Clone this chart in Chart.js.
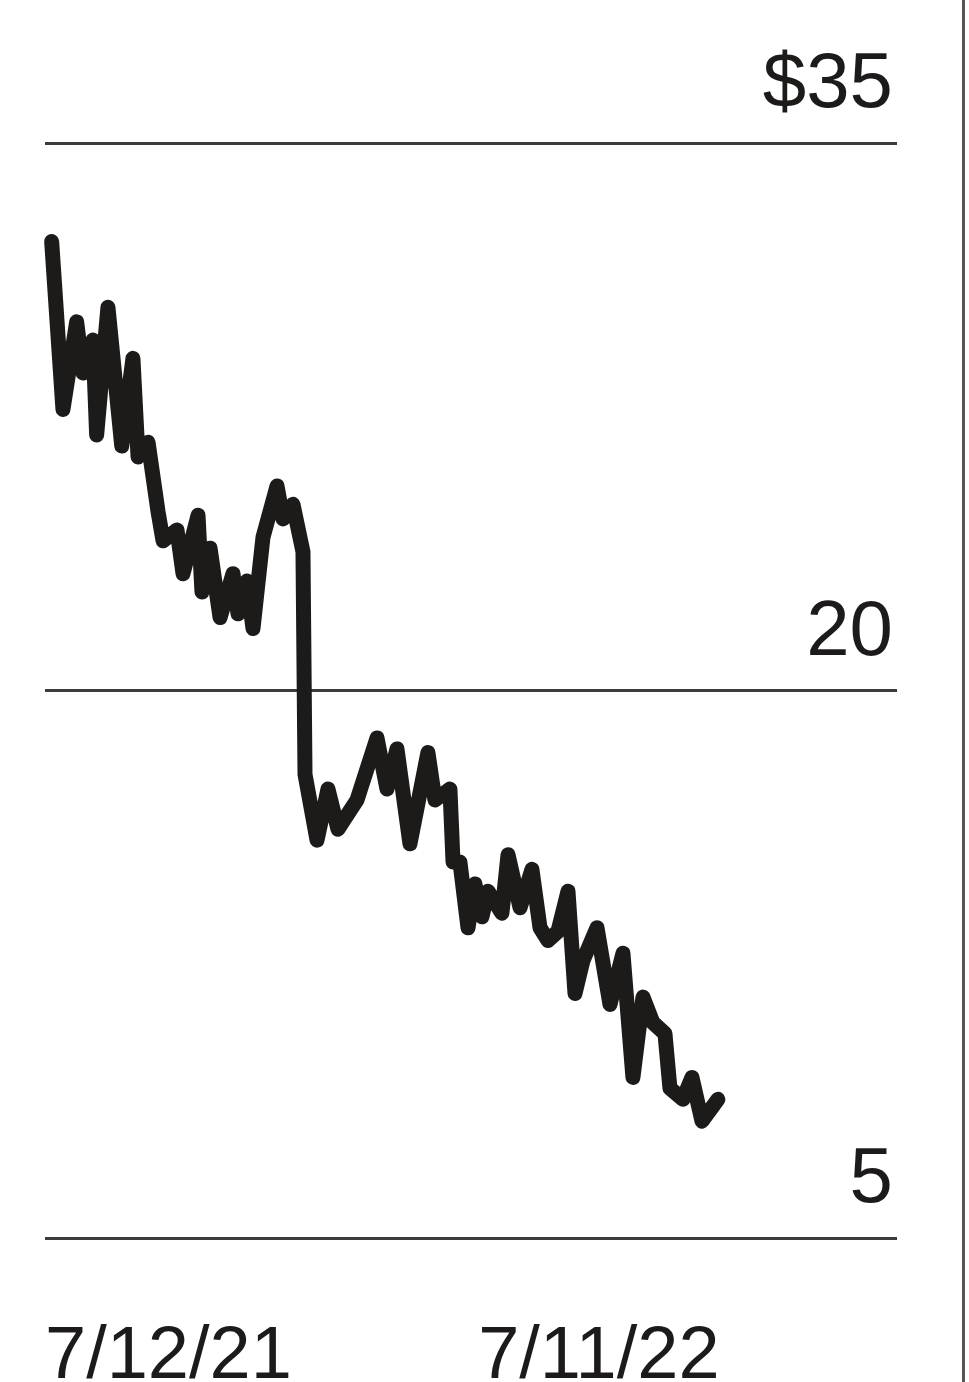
<!DOCTYPE html>
<html lang="en">
<head>
    <meta charset="UTF-8">
    <title>Share price</title>
    <script src="https://cdn.jsdelivr.net/npm/chart.js"></script>
    <style>
        html, body { margin: 0; padding: 0; background: #fff; }
        #wrap { position: relative; width: 969px; height: 1382px; }
        /* thin frame line on the right */
        #wrap:after {
            content: ''; position: absolute; left: 962px; top: 0;
            width: 3px; height: 1382px; background: #555;
        }
    </style>
</head>
<body>
<div id="wrap"><canvas id="myChart" width="969" height="1382"></canvas></div>
<script>
    // days since 7/12/21
    const days = [5.6, 15.1, 26.6, 31.9, 40.3, 43.4, 52.9, 64.5, 73.9, 78.2, 86.6, 95.0, 99.2, 110.9,
        116.0, 128.6, 131.9, 138.7, 147.1, 158.0, 162.2, 169.7, 174.8, 183.2, 195.0, 200.0, 208.4,
        216.8, 218.5, 228.6, 237.8, 246.2, 262.2, 279.0, 287.4, 295.8, 306.7, 321.8, 327.7, 340.3,
        342.9, 348.7, 355.5, 361.3, 367.2, 372.3, 384.0, 389.1, 399.2, 409.2, 416.0, 422.7, 431.1,
        439.5, 445.4, 452.1, 463.9, 474.8, 485.7, 494.1, 502.5, 510.9, 521.0, 525.2, 536.1, 543.7,
        552.1, 565.5];
    const prices = [32.3, 27.7, 30.1, 28.7, 29.6, 27.0, 30.5, 26.7, 29.1, 26.4, 26.8, 24.9, 24.1, 24.4,
        23.2, 24.8, 22.7, 23.9, 22.0, 23.2, 22.1, 23.0, 21.7, 24.2, 25.6, 24.7, 25.1,
        23.8, 17.7, 15.9, 17.3, 16.2, 17.0, 18.7, 17.3, 18.4, 15.8, 18.3, 17.0, 17.3,
        15.3, 15.3, 13.5, 14.7, 13.8, 14.5, 13.9, 15.5, 14.05, 15.1, 13.5, 13.15, 13.4,
        14.5, 11.7, 12.6, 13.5, 11.4, 12.8, 9.4, 11.6, 10.9, 10.6, 9.1, 8.8, 9.4,
        8.2, 8.8];

    const yTicks = [5, 20, 35];
    const yTickLabels = ['5', '20', '$35'];
    const xTickDays = [0, 364];
    const xTickLabels = ['7/12/21', '7/11/22'];

    const ink = '#1d1a1a';

    const yLabelPlugin = {
        id: 'yLabels',
        afterDraw(chart) {
            const ctx = chart.ctx;
            const y = chart.scales.y;
            ctx.save();
            ctx.font = '78px "Liberation Sans", Arial, sans-serif';
            ctx.fillStyle = ink;
            ctx.textAlign = 'right';
            ctx.textBaseline = 'alphabetic';
            yTicks.forEach((v, i) => {
                ctx.fillText(yTickLabels[i], chart.chartArea.right - 4, y.getPixelForValue(v) - 36);
            });
            ctx.restore();
        }
    };

    const ctx = document.getElementById('myChart').getContext('2d');
    new Chart(ctx, {
        type: 'line',
        data: {
            datasets: [{
                data: days.map((d, i) => ({ x: d, y: prices[i] })),
                borderColor: ink,
                borderWidth: 15,
                borderJoinStyle: 'round',
                borderCapStyle: 'round',
                pointRadius: 0,
                tension: 0,
                fill: false
            }]
        },
        options: {
            responsive: false,
            animation: false,
            clip: false,
            layout: { padding: { left: 45, right: 72, top: 143, bottom: 0 } },
            plugins: { legend: { display: false }, tooltip: { enabled: false } },
            scales: {
                x: {
                    type: 'linear',
                    min: 0,
                    max: 716,
                    grid: { display: false },
                    border: { display: false },
                    afterBuildTicks: (scale) => { scale.ticks = xTickDays.map(v => ({ value: v })); },
                    afterFit: (scale) => {
                        scale.height = 144;
                        scale.paddingLeft = 0;
                        scale.paddingRight = 0;
                    },
                    ticks: {
                        autoSkip: false,
                        maxRotation: 0,
                        align: 'start',
                        padding: 67,
                        color: ink,
                        font: { family: '"Liberation Sans", Arial, sans-serif', size: 74 },
                        callback: (v) => xTickLabels[xTickDays.indexOf(v)]
                    }
                },
                y: {
                    min: 5,
                    max: 35,
                    afterBuildTicks: (scale) => { scale.ticks = yTicks.map(v => ({ value: v })); },
                    afterFit: (scale) => { scale.width = 0; },
                    grid: { color: '#3c3c3c', lineWidth: 3, drawTicks: false },
                    border: { display: false },
                    ticks: { display: false }
                }
            }
        },
        plugins: [yLabelPlugin]
    });
</script>
</body>
</html>
